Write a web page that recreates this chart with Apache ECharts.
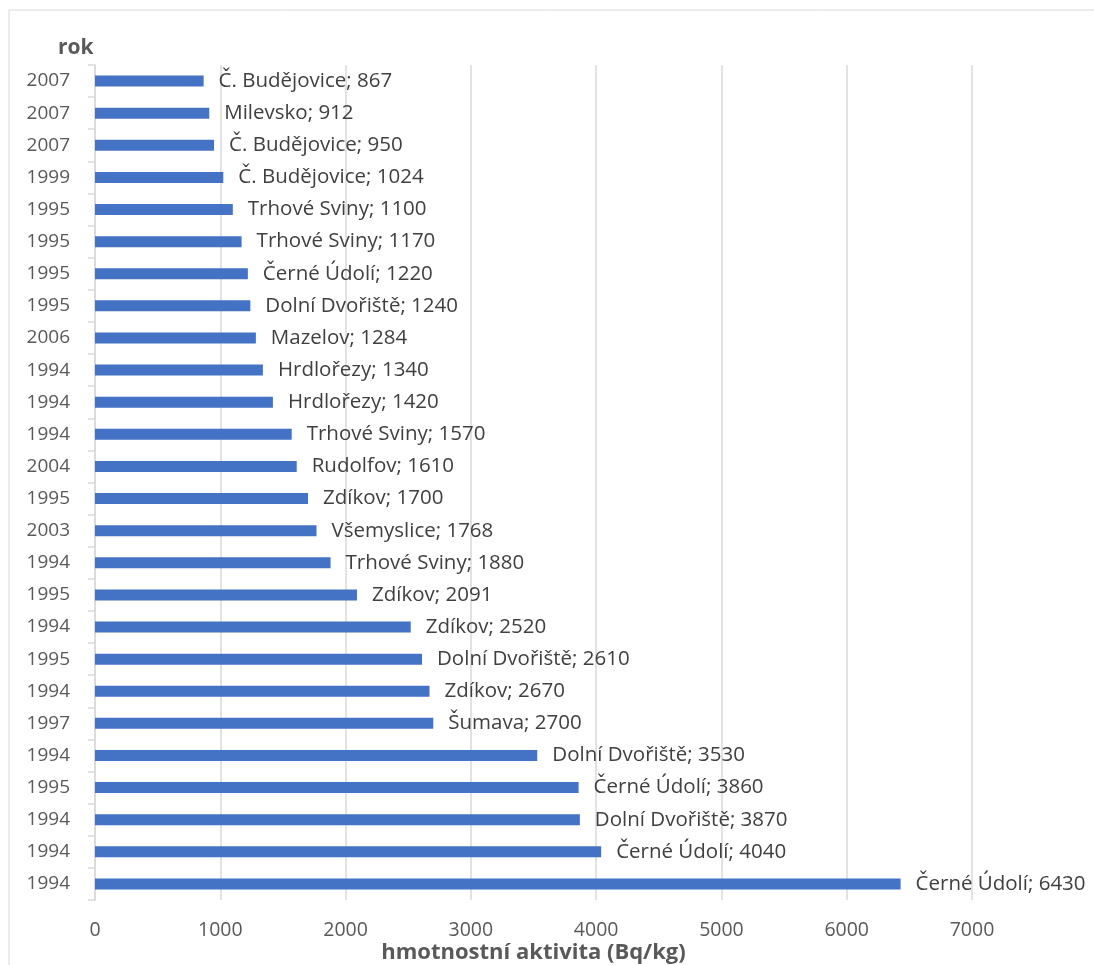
<!DOCTYPE html>
<html>
<head>
<meta charset="utf-8">
<script src="https://cdn.jsdelivr.net/npm/echarts@6/dist/echarts.min.js"></script>
<style>
  html, body { margin: 0; padding: 0; background: #ffffff; }
  #chart { width: 1094px; height: 965px; }
</style>
</head>
<body>
<div id="chart"></div>
<script>
// Sampling records, listed top to bottom
const years = ['2007','2007','2007','1999','1995','1995','1995','1995','2006','1994','1994','1994','2004','1995','2003','1994','1995','1994','1995','1994','1997','1994','1995','1994','1994','1994'];
const places = ['Č. Budějovice','Milevsko','Č. Budějovice','Č. Budějovice','Trhové Sviny','Trhové Sviny','Černé Údolí','Dolní Dvořiště','Mazelov','Hrdlořezy','Hrdlořezy','Trhové Sviny','Rudolfov','Zdíkov','Všemyslice','Trhové Sviny','Zdíkov','Zdíkov','Dolní Dvořiště','Zdíkov','Šumava','Dolní Dvořiště','Černé Údolí','Dolní Dvořiště','Černé Údolí','Černé Údolí'];
const activity = [867,912,950,1024,1100,1170,1220,1240,1284,1340,1420,1570,1610,1700,1768,1880,2091,2520,2610,2670,2700,3530,3860,3870,4040,6430];

const FONT = '"Open Sans", Lato, sans-serif';
const rowIndex = years.map((_, i) => String(i));

const chart = echarts.init(document.getElementById('chart'), null, { renderer: 'canvas' });
chart.setOption({
  backgroundColor: '#ffffff',
  animation: false,
  textStyle: { fontFamily: FONT },
  title: {
    text: 'rok',
    left: 53,
    top: 33,
    textStyle: { fontFamily: FONT, fontSize: 21, fontWeight: 'bold', color: '#595959' }
  },
  graphic: [
    { type: 'polyline', silent: true,
      shape: { points: [[9, 965], [9, 10], [1094, 10]] },
      style: { stroke: '#d9d9d9', lineWidth: 1, fill: null } }
  ],
  grid: {
    left: 95, right: 122, top: 65, bottom: 65,
    containLabel: false,
    outerBoundsMode: 'none'
  },
  xAxis: {
    type: 'value',
    min: 0,
    max: 7000,
    interval: 1000,
    name: 'hmotnostní aktivita (Bq/kg)',
    nameLocation: 'middle',
    nameGap: 42,
    nameMoveOverlap: false,
    nameTextStyle: { fontFamily: FONT, fontSize: 22, fontWeight: 'bold', color: '#595959' },
    axisLine: { show: false },
    axisTick: { show: false },
    axisLabel: {
      fontFamily: FONT, fontSize: 19.5, color: '#595959', margin: 20,
      formatter: (v) => String(v)
    },
    splitLine: { show: true, lineStyle: { color: '#d9d9d9', width: 1.5 } }
  },
  yAxis: {
    type: 'category',
    inverse: true,
    data: rowIndex,
    axisLine: { show: true, lineStyle: { color: '#d9d9d9', width: 1.5 } },
    axisTick: { show: true, length: 7, lineStyle: { color: '#d9d9d9', width: 1.5 } },
    axisLabel: {
      fontFamily: FONT, fontSize: 19, color: '#595959', margin: 25,
      formatter: (v) => years[Number(v)]
    },
    splitLine: { show: false }
  },
  series: [{
    type: 'bar',
    data: activity,
    barWidth: 11,
    itemStyle: { color: '#4472C4' },
    label: {
      show: true,
      position: 'right',
      distance: 15,
      fontFamily: FONT,
      fontSize: 20.5,
      color: '#404040',
      formatter: (p) => places[p.dataIndex] + '; ' + p.value
    }
  }]
});
</script>
</body>
</html>
